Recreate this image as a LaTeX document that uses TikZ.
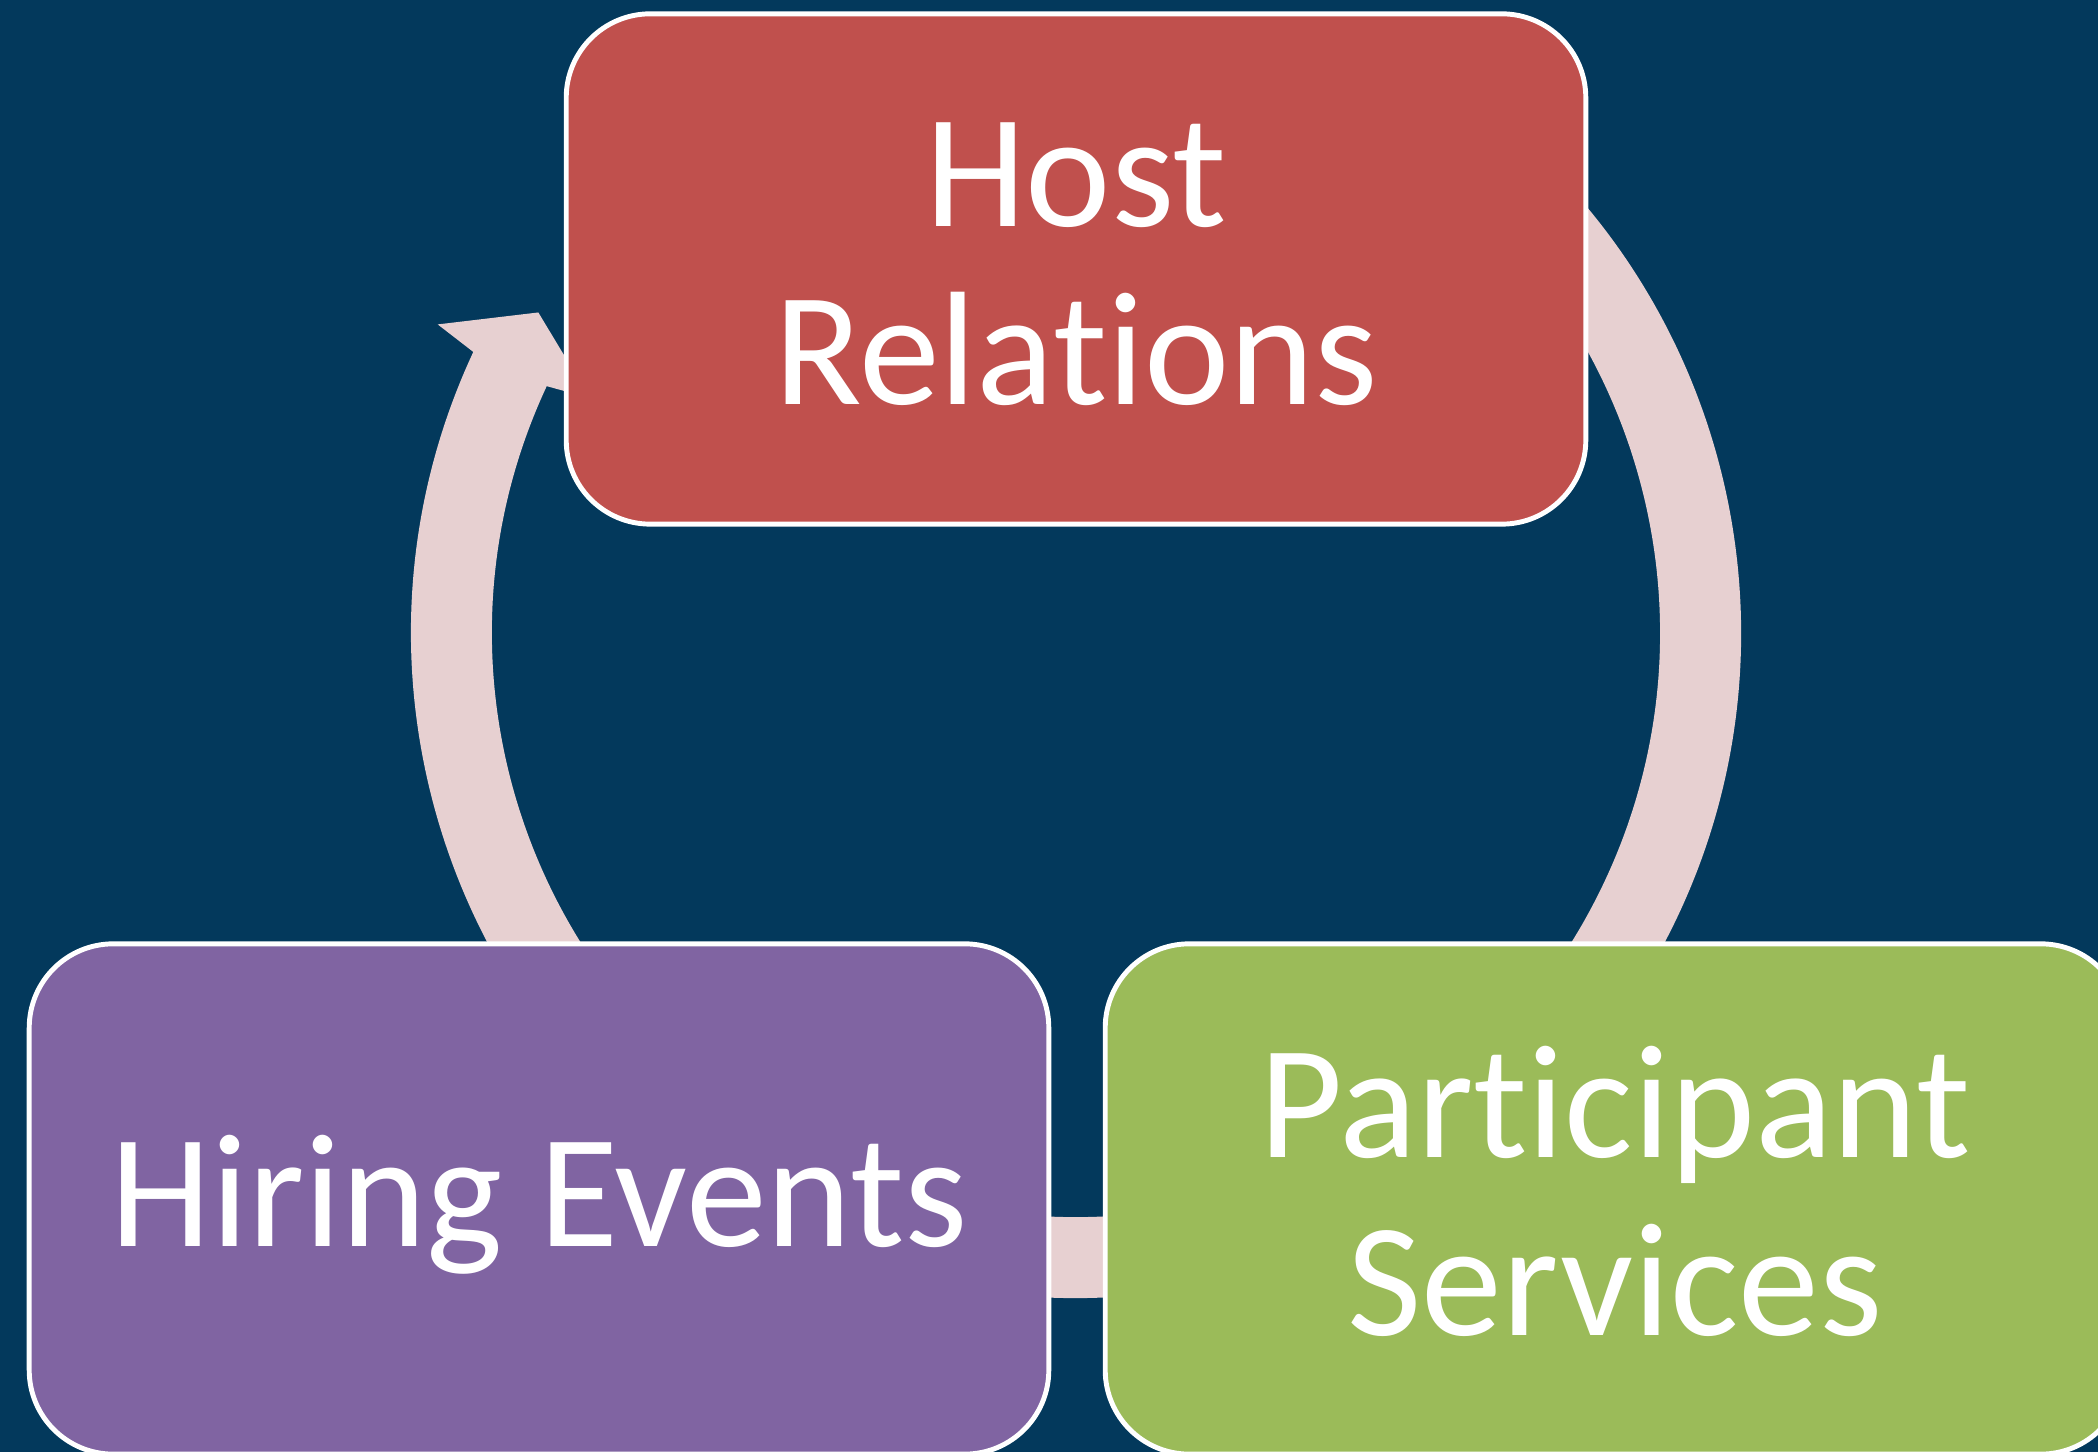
\documentclass[tikz,border=0pt]{standalone}
\usepackage{fontspec}
\setmainfont{Carlito}[Ligatures=NoCommon]
\usetikzlibrary{calc}

\definecolor{bgblue}{RGB}{3,57,92}
\definecolor{ringpink}{RGB}{231,208,209}
\definecolor{hostred}{RGB}{192,80,77}
\definecolor{hirepurple}{RGB}{128,100,162}
\definecolor{partgreen}{RGB}{155,187,89}

\tikzset{
  stage/.style={draw=white, line width=1.4pt, rounded corners=0.84cm,
    minimum width=10.19cm, minimum height=5.10cm, inner sep=0pt},
  stagetext/.style={align=center, text=white, font=\fontsize{46}{50.6}\selectfont},
  ring/.style={fill=ringpink}
}

\begin{document}
\begin{tikzpicture}[x=0.01cm,y=0.01cm]
\useasboundingbox (0,0) rectangle (2098,1452);
\clip (0,0) rectangle (2098,1452);
\fill[bgblue] (0,0) rectangle (2098,1452);
\coordinate (c) at (1076,819);
%%% cycle
\fill[ring] ($(c)+(60:665)$) arc[start angle=60, end angle=-205, radius=665]
  -- ($(c)+(-205.8:709)$) -- ($(c)+(-210.8:626)$) -- ($(c)+(-205.8:540)$)
  -- ($(c)+(-205:584)$) arc[start angle=-205, end angle=60, radius=584] -- cycle;
%% nodes
\node[stage, fill=hostred] (host) at (1076,1183) {};
\node[stage, fill=hirepurple] (hiring) at (539,253) {};
\node[stage, fill=partgreen] (participant) at (1615,253) {};
%% labels
\node[stagetext] (hosttext) at ([yshift=0.05cm]host.center) {Host\\Relations};
\node[stagetext] (hiringtext) at ([yshift=-0.06cm]hiring.center) {Hiring Events};
\node[stagetext] (participanttext) at ([yshift=0.08cm]participant.center) {Participant\\Services};
\end{tikzpicture}
\end{document}
